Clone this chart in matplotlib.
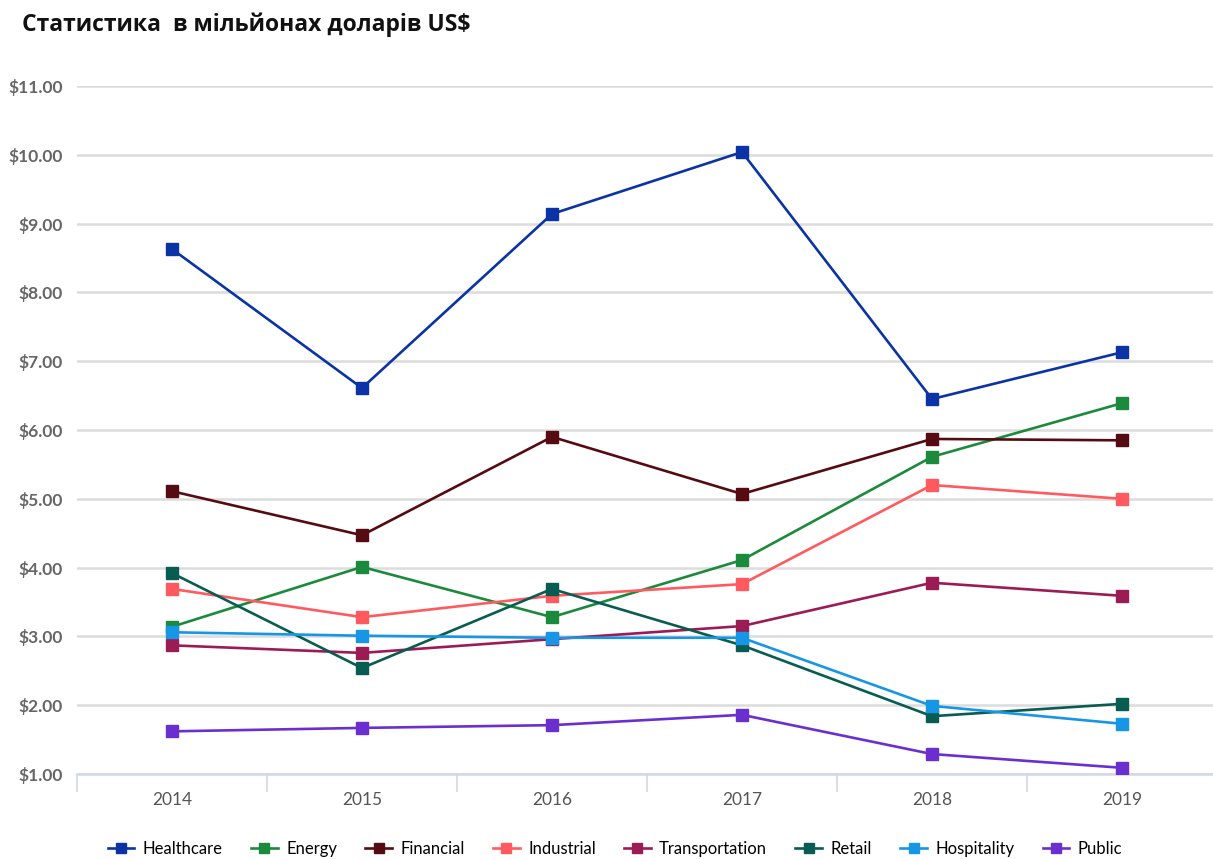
import matplotlib
matplotlib.use('Agg')
import matplotlib.pyplot as plt

# ── Data (USD millions) ─────────────────────────────────────────────────────
YEARS = ['2014', '2015', '2016', '2017', '2018', '2019']

healthcare = [8.63, 6.61, 9.14, 10.04, 6.45, 7.13]
energy = [3.14, 4.01, 3.28, 4.11, 5.61, 6.39]
financial = [5.11, 4.47, 5.90, 5.07, 5.87, 5.85]
industrial = [3.69, 3.28, 3.59, 3.76, 5.20, 5.00]
transportation = [2.87, 2.76, 2.96, 3.15, 3.78, 3.59]
retail = [3.92, 2.54, 3.69, 2.87, 1.84, 2.02]
hospitality = [3.06, 3.01, 2.98, 2.98, 1.99, 1.73]
public = [1.62, 1.67, 1.71, 1.86, 1.29, 1.09]

SERIES = [
    ('Healthcare', healthcare, '#0b33a6'),
    ('Energy', energy, '#1c8a3c'),
    ('Financial', financial, '#560b12'),
    ('Industrial', industrial, '#ff5a5f'),
    ('Transportation', transportation, '#9b1c55'),
    ('Retail', retail, '#085c52'),
    ('Hospitality', hospitality, '#1796e6'),
    ('Public', public, '#6b2fd0'),
]

Y_TICKS = [1, 2, 3, 4, 5, 6, 7, 8, 9, 10, 11]

plt.rcParams['font.family'] = ['Lato', 'DejaVu Sans']

fig = plt.figure(figsize=(12.13, 8.59), dpi=100)
ax = fig.add_axes([77 / 1213, 1 - 774 / 859, 1140 / 1213, (774 - 86) / 859])

x = list(range(len(YEARS)))
for name, values, color in SERIES:
    ax.plot(x, values, color=color, lw=1.9, marker='s', markersize=8.5,
            label=name, zorder=3)

ax.set_xlim(-0.5, len(YEARS) - 0.5)
ax.set_ylim(1, 11)
ax.set_yticks(Y_TICKS)
ax.set_yticklabels([f'${v:.2f}' for v in Y_TICKS])
ax.grid(axis='y', color='#dcdcdc', lw=1.8, zorder=0)
ax.set_axisbelow(True)

for side in ('top', 'right', 'left'):
    ax.spines[side].set_visible(False)
ax.spines['bottom'].set_color('#d3d7ea')
ax.spines['bottom'].set_linewidth(1.8)

# year labels sit mid-band, tick marks on the band edges
ax.set_xticks([i - 0.5 for i in range(len(YEARS) + 1)], minor=False)
ax.set_xticklabels([])
ax.tick_params(axis='x', which='major', length=13, width=1.2, color='#d3d7ea')
ax.set_xticks(x, minor=True)
ax.set_xticklabels(YEARS, minor=True)
ax.tick_params(axis='x', which='minor', length=0, pad=13, labelsize=12.5,
               labelcolor='#555555')
ax.tick_params(axis='y', length=0, pad=10, labelsize=12.5, labelcolor='#666666')
for lbl in ax.get_yticklabels():
    lbl.set_fontweight('bold')

fig.text(22 / 1213, 1 - 25 / 859, 'Статистика  в мільйонах доларів US$',
         fontsize=16.5, fontweight='bold', color='#111111',
         family=['Open Sans', 'DejaVu Sans'], va='center', ha='left')

fig.legend(loc='center', bbox_to_anchor=(615 / 1213, 1 - 849 / 859), ncol=8,
           frameon=False, fontsize=12, handlelength=1.6, columnspacing=1.7,
           handletextpad=0.5, markerscale=0.85)

fig.savefig('out.png', dpi=100)
